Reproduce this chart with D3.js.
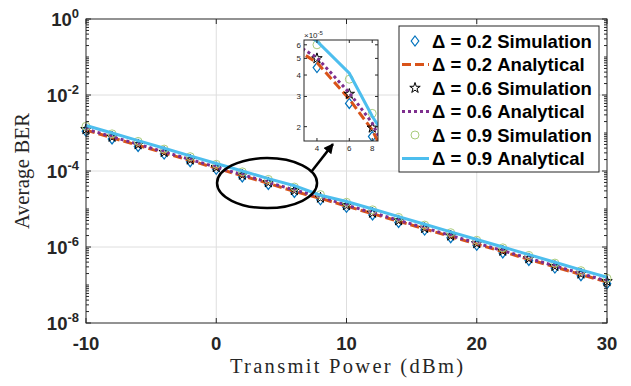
<!DOCTYPE html>
<html>
<head>
<meta charset="utf-8">
<script src="https://cdn.jsdelivr.net/npm/d3@7/dist/d3.min.js"></script>
<style>
body { margin: 0; background: #fff; }
.tick-lab { font-family: "Liberation Sans", Arial, sans-serif; font-weight: bold; fill: #262626; }
.axis-text { font-family: "Liberation Serif", "DejaVu Serif", serif; fill: #262626; }
.leg { font-family: "Liberation Sans", Arial, sans-serif; font-weight: bold; font-size: 18.5px; fill: #000; }
.small { font-family: "Liberation Sans", Arial, sans-serif; font-size: 8px; fill: #262626; }
</style>
</head>
<body>
<div class="chart"></div>
<script>
// data
var power = [-10, -8, -6, -4, -2, 0, 2, 4, 6, 8, 10, 12, 14, 16, 18, 20, 22, 24, 26, 28, 30];

var sim02 = [1.11e-3, 7.0e-4, 4.42e-4, 2.79e-4, 1.76e-4, 1.11e-4, 7.0e-5, 4.42e-5, 2.73e-5, 1.75e-5, 1.11e-5,
             7.0e-6, 4.42e-6, 2.79e-6, 1.76e-6, 1.11e-6, 7.0e-7, 4.42e-7, 2.79e-7, 1.76e-7, 1.08e-7];
var ana02 = [1.19e-3, 7.5e-4, 4.74e-4, 2.99e-4, 1.88e-4, 1.19e-4, 7.5e-5, 4.73e-5, 2.9e-5, 1.91e-5, 1.19e-5,
             7.5e-6, 4.74e-6, 2.99e-6, 1.88e-6, 1.19e-6, 7.5e-7, 4.74e-7, 2.99e-7, 1.88e-7, 1.19e-7];
var sim06 = [1.25e-3, 7.9e-4, 5.0e-4, 3.14e-4, 1.98e-4, 1.25e-4, 7.9e-5, 5.0e-5, 3.1e-5, 1.97e-5, 1.25e-5,
             7.9e-6, 5.0e-6, 3.14e-6, 1.98e-6, 1.25e-6, 7.9e-7, 5.0e-7, 3.14e-7, 1.98e-7, 1.25e-7];
var ana06 = [1.27e-3, 8.0e-4, 5.05e-4, 3.19e-4, 2.01e-4, 1.27e-4, 8.0e-5, 5.05e-5, 3.15e-5, 2.1e-5, 1.27e-5,
             8.0e-6, 5.05e-6, 3.19e-6, 2.01e-6, 1.27e-6, 8.0e-7, 5.05e-7, 3.19e-7, 2.01e-7, 1.27e-7];
var sim09 = [1.5e-3, 9.5e-4, 6.0e-4, 3.77e-4, 2.38e-4, 1.5e-4, 9.5e-5, 6.0e-5, 3.78e-5, 2.39e-5, 1.5e-5,
             9.5e-6, 6.0e-6, 3.77e-6, 2.38e-6, 1.5e-6, 9.5e-7, 6.0e-7, 3.77e-7, 2.38e-7, 1.5e-7];
var ana09 = [1.58e-3, 1.0e-3, 6.3e-4, 3.97e-4, 2.5e-4, 1.58e-4, 1.0e-4, 6.3e-5, 4.1e-5, 2.3e-5, 1.58e-5,
             1.0e-5, 6.3e-6, 3.97e-6, 2.5e-6, 1.58e-6, 1.0e-6, 6.3e-7, 3.97e-7, 2.5e-7, 1.6e-7];

var legendLabels = ["\u0394 = 0.2 Simulation", "\u0394 = 0.2 Analytical", "\u0394 = 0.6 Simulation",
                    "\u0394 = 0.6 Analytical", "\u0394 = 0.9 Simulation", "\u0394 = 0.9 Analytical"];
var xTicks = [-10, 0, 10, 20, 30];
var yTickExp = [0, -2, -4, -6, -8];
var insetXTicks = [4, 6, 8];
var insetYTicks = [2, 3, 4, 5, 6];

var svgWidth = 631, svgHeight = 386;
var margin = {top: 19, right: 24, bottom: 63, left: 86};
var width = svgWidth - margin.left - margin.right;
var height = svgHeight - margin.top - margin.bottom;

var svg = d3.select(".chart").append("svg")
  .attr("width", svgWidth).attr("height", svgHeight);
var chart = svg.append("g")
  .attr("transform", "translate(" + margin.left + "," + margin.top + ")");

var x = d3.scaleLinear().domain([-10, 30]).range([0, width]);
var y = d3.scaleLog().domain([1e-8, 1]).range([height, 0]);

// grid
chart.selectAll(".gx").data(xTicks.slice(1, -1)).enter().append("line")
  .attr("x1", d => x(d)).attr("x2", d => x(d)).attr("y1", 0).attr("y2", height)
  .attr("stroke", "#dedede").attr("stroke-width", 1);
chart.selectAll(".gy").data(yTickExp.slice(1, -1)).enter().append("line")
  .attr("y1", d => y(Math.pow(10, d))).attr("y2", d => y(Math.pow(10, d)))
  .attr("x1", 0).attr("x2", width)
  .attr("stroke", "#dedede").attr("stroke-width", 1);

// series
var series = [
  {v: sim02, type: "diamond", color: "#0072BD"},
  {v: ana02, type: "line", color: "#D95319", dash: "9,4"},
  {v: sim06, type: "star", color: "#000"},
  {v: ana06, type: "line", color: "#7E2F8E", dash: "3,3"},
  {v: sim09, type: "circle", color: "#a9cc7c"},
  {v: ana09, type: "line", color: "#4DBEEE", dash: null}
];

function marker(g, type, color, cx, cy) {
  if (type === "diamond") {
    g.append("path").attr("d", "M" + cx + "," + (cy - 5) + "L" + (cx + 3.8) + "," + cy + "L" + cx + "," + (cy + 5) + "L" + (cx - 3.8) + "," + cy + "Z")
      .attr("fill", "none").attr("stroke", color).attr("stroke-width", 1.2);
  } else if (type === "star") {
    g.append("path").attr("d", d3.symbol().type(d3.symbolStar).size(34)())
      .attr("transform", "translate(" + cx + "," + cy + ")")
      .attr("fill", "none").attr("stroke", color).attr("stroke-width", 1);
  } else {
    g.append("circle").attr("cx", cx).attr("cy", cy).attr("r", 4)
      .attr("fill", "none").attr("stroke", color).attr("stroke-width", 1);
  }
}

function drawSeries(g, xs, ys, xDomainFilter) {
  series.forEach(function(s) {
    var pts = power.map((p, i) => [p, s.v[i]]).filter(d => xDomainFilter(d[0]));
    if (s.type === "line") {
      var line = d3.line().x(d => xs(d[0])).y(d => ys(d[1]));
      g.append("path").datum(pts).attr("d", line)
        .attr("fill", "none").attr("stroke", s.color).attr("stroke-width", 3)
        .attr("stroke-dasharray", s.dash);
    } else {
      pts.forEach(function(d) { marker(g, s.type, s.color, xs(d[0]), ys(d[1])); });
    }
  });
}
drawSeries(chart, x, y, d => true);

// axes box and ticks (inward)
var axColor = "#262626";
chart.append("rect").attr("width", width).attr("height", height)
  .attr("fill", "none").attr("stroke", axColor).attr("stroke-width", 1);

xTicks.forEach(function(t) {
  chart.append("line").attr("x1", x(t)).attr("x2", x(t)).attr("y1", height).attr("y2", height - 5).attr("stroke", axColor);
  chart.append("line").attr("x1", x(t)).attr("x2", x(t)).attr("y1", 0).attr("y2", 5).attr("stroke", axColor);
  chart.append("text").attr("class", "tick-lab").attr("x", x(t)).attr("y", height + 27)
    .attr("text-anchor", "middle").attr("font-size", 18.5).text(t);
});

for (var e = -8; e <= 0; e++) {
  var len = (yTickExp.indexOf(e) >= 0) ? 5 : 3;
  [0, width].forEach(function(xx) {
    var dir = xx === 0 ? 1 : -1;
    chart.append("line").attr("x1", xx).attr("x2", xx + dir * len)
      .attr("y1", y(Math.pow(10, e))).attr("y2", y(Math.pow(10, e))).attr("stroke", axColor);
    if (e < 0) {
      for (var m = 2; m <= 9; m++) {
        var yy = y(m * Math.pow(10, e));
        chart.append("line").attr("x1", xx).attr("x2", xx + dir * 3)
          .attr("y1", yy).attr("y2", yy).attr("stroke", axColor);
      }
    }
  });
}

yTickExp.forEach(function(t) {
  var lab = chart.append("text").attr("class", "tick-lab")
    .attr("x", -7).attr("y", y(Math.pow(10, t)) + 7)
    .attr("text-anchor", "end").attr("font-size", 18.5);
  lab.append("tspan").text("10");
  lab.append("tspan").attr("dy", -8).attr("font-size", 13).text(t === 0 ? "0" : t);
});

// axis labels
chart.append("text").attr("class", "axis-text")
  .attr("x", width / 2).attr("y", height + 50)
  .attr("text-anchor", "middle").attr("font-size", 20.5)
  .attr("textLength", 233).attr("lengthAdjust", "spacing")
  .text("Transmit Power (dBm)");
chart.append("text").attr("class", "axis-text")
  .attr("transform", "rotate(-90)")
  .attr("x", -height / 2).attr("y", -margin.left + 29)
  .attr("text-anchor", "middle").attr("font-size", 20.5)
  .attr("textLength", 116).attr("lengthAdjust", "spacing")
  .text("Average BER");

// ellipse + arrow annotation
chart.append("ellipse").attr("cx", x(3.9)).attr("cy", y(4.8e-5)).attr("rx", 50).attr("ry", 25)
  .attr("fill", "none").attr("stroke", "#000").attr("stroke-width", 2.5);
svg.append("defs").append("marker").attr("id", "arrow")
  .attr("viewBox", "0 0 10 10").attr("refX", 9).attr("refY", 5)
  .attr("markerWidth", 4).attr("markerHeight", 4).attr("orient", "auto")
  .append("path").attr("d", "M0,0L10,5L0,10Z").attr("fill", "#000");
chart.append("line").attr("x1", x(7.27)).attr("y1", y(9.3e-5)).attr("x2", x(8.96)).attr("y2", y(5.1e-4))
  .attr("stroke", "#000").attr("stroke-width", 2.5).attr("marker-end", "url(#arrow)");

// inset
var ix = d3.scaleLog().domain([3.4, 8.6]).range([304, 378]);
var iy = d3.scaleLog().domain([1.65e-5, 6.4e-5]).range([141, 40]);
var inset = svg.append("g");
svg.select("defs").append("clipPath").attr("id", "iclip")
  .append("rect").attr("x", 304).attr("y", 40).attr("width", 74).attr("height", 101);
var ig = inset.append("g").attr("clip-path", "url(#iclip)");
drawSeries(ig, ix, iy, d => d >= 2 && d <= 10);
inset.append("rect").attr("x", 304).attr("y", 40).attr("width", 74).attr("height", 101)
  .attr("fill", "none").attr("stroke", axColor).attr("stroke-width", 1);
insetXTicks.forEach(function(t) {
  inset.append("line").attr("x1", ix(t)).attr("x2", ix(t)).attr("y1", 141).attr("y2", 138).attr("stroke", axColor);
  inset.append("line").attr("x1", ix(t)).attr("x2", ix(t)).attr("y1", 40).attr("y2", 43).attr("stroke", axColor);
  inset.append("text").attr("class", "small").attr("x", ix(t)).attr("y", 151)
    .attr("text-anchor", "middle").text(t);
});
insetYTicks.forEach(function(t) {
  inset.append("line").attr("x1", 304).attr("x2", 307).attr("y1", iy(t * 1e-5)).attr("y2", iy(t * 1e-5)).attr("stroke", axColor);
  inset.append("line").attr("x1", 378).attr("x2", 375).attr("y1", iy(t * 1e-5)).attr("y2", iy(t * 1e-5)).attr("stroke", axColor);
  inset.append("text").attr("class", "small").attr("x", 301).attr("y", iy(t * 1e-5) + 3)
    .attr("text-anchor", "end").text(t);
});
var ex = inset.append("text").attr("class", "small").attr("x", 304).attr("y", 38);
ex.append("tspan").text("\u00d710");
ex.append("tspan").attr("dy", -3).attr("font-size", 6).text("-5");

// legend
var lg = svg.append("g").attr("transform", "translate(399,26)");
lg.append("rect").attr("width", 200).attr("height", 146)
  .attr("fill", "#fff").attr("stroke", axColor).attr("stroke-width", 1);
series.forEach(function(s, i) {
  var ry = 15 + i * 23.5;
  if (s.type === "line") {
    lg.append("line").attr("x1", 3).attr("x2", 30).attr("y1", ry).attr("y2", ry)
      .attr("stroke", s.color).attr("stroke-width", 3).attr("stroke-dasharray", s.dash);
  } else {
    marker(lg, s.type, s.color, 16, ry);
  }
  lg.append("text").attr("class", "leg").attr("x", 33).attr("y", ry + 6.5).text(legendLabels[i]);
});
</script>
</body>
</html>
